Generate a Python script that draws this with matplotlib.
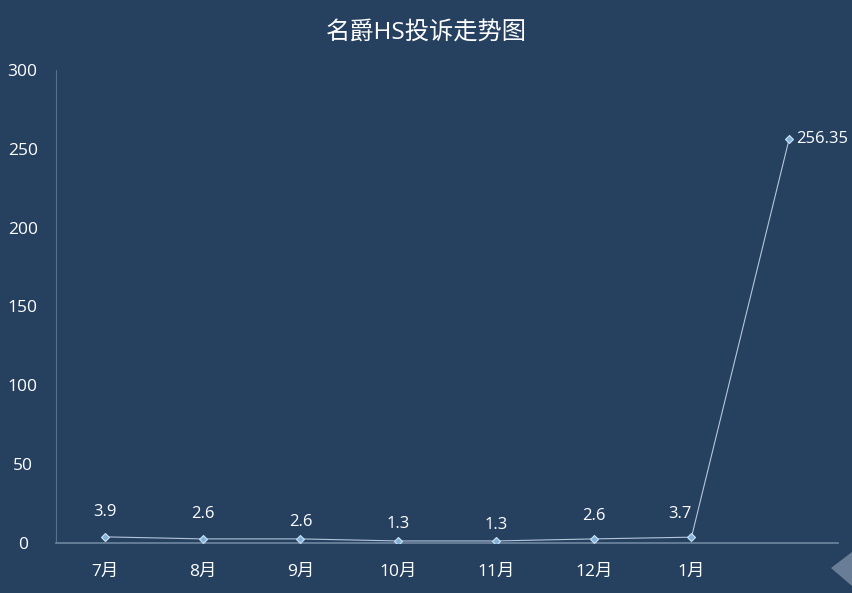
import matplotlib.pyplot as plt
from matplotlib.patches import Polygon

plt.rcParams['font.family'] = ['Open Sans', 'Noto Sans CJK SC', 'DejaVu Sans']

months = ['7月', '8月', '9月', '10月', '11月', '12月', '1月', '']
complaints = [3.9, 2.6, 2.6, 1.3, 1.3, 2.6, 3.7, 256.35]
labels = ['3.9', '2.6', '2.6', '1.3', '1.3', '2.6', '3.7', '256.35']

bg = '#26405f'
fig = plt.figure(figsize=(8.52, 5.93), dpi=100, facecolor=bg)
ax = fig.add_axes([0.0657, 0.0843, 0.918, 0.798], facecolor=bg)

x = list(range(len(complaints)))
ax.plot(x, complaints, color='#b4c6da', linewidth=0.8,
        marker='D', markersize=4.5, markerfacecolor='#7fb2dc',
        markeredgecolor='#cfe3f3', markeredgewidth=0.8, zorder=3)

# label offsets in pixels (dx, dy)
offsets = [(0, 25), (0, 25), (0, 17), (0, 17), (0, 16), (0, 23), (-12, 23), (33, 0)]
for i, (v, t) in enumerate(zip(complaints, labels)):
    dx, dy = offsets[i]
    ax.annotate(t, (i, v), xytext=(dx * 0.72, dy * 0.72), textcoords='offset points',
                ha='center', va='center', color='white', fontsize=12)

ax.set_xlim(-0.5, 7.5)
ax.set_ylim(0, 300)
ax.set_yticks(range(0, 301, 50))
ax.set_xticks(x)
ax.set_xticklabels(months)
ax.tick_params(axis='both', length=0, colors='white', labelsize=12.5)
ax.tick_params(axis='x', pad=15)
for lbl in ax.get_yticklabels():
    lbl.set_horizontalalignment('center')
ax.tick_params(axis='y', pad=24)

for s in ['top', 'right']:
    ax.spines[s].set_visible(False)
ax.spines['left'].set_color('#56708c')
ax.spines['left'].set_linewidth(0.8)
ax.spines['bottom'].set_color('#6f869f')
ax.spines['bottom'].set_linewidth(1.2)

fig.text(0.5, 0.945, '名爵HS投诉走势图', ha='center', va='center',
         color='white', fontsize=17.5, family=['Open Sans', 'Noto Sans CJK SC'])

# small grey arrow shape at lower right corner
tri = Polygon([(831 / 852, 1 - 568 / 593), (852 / 852, 1 - 552 / 593), (852 / 852, 1 - 586 / 593)],
              closed=True, transform=fig.transFigure, facecolor='#7b8ea5', edgecolor='none',
              alpha=0.8)
fig.patches.append(tri)

plt.savefig('out.png', dpi=100, facecolor=bg)
